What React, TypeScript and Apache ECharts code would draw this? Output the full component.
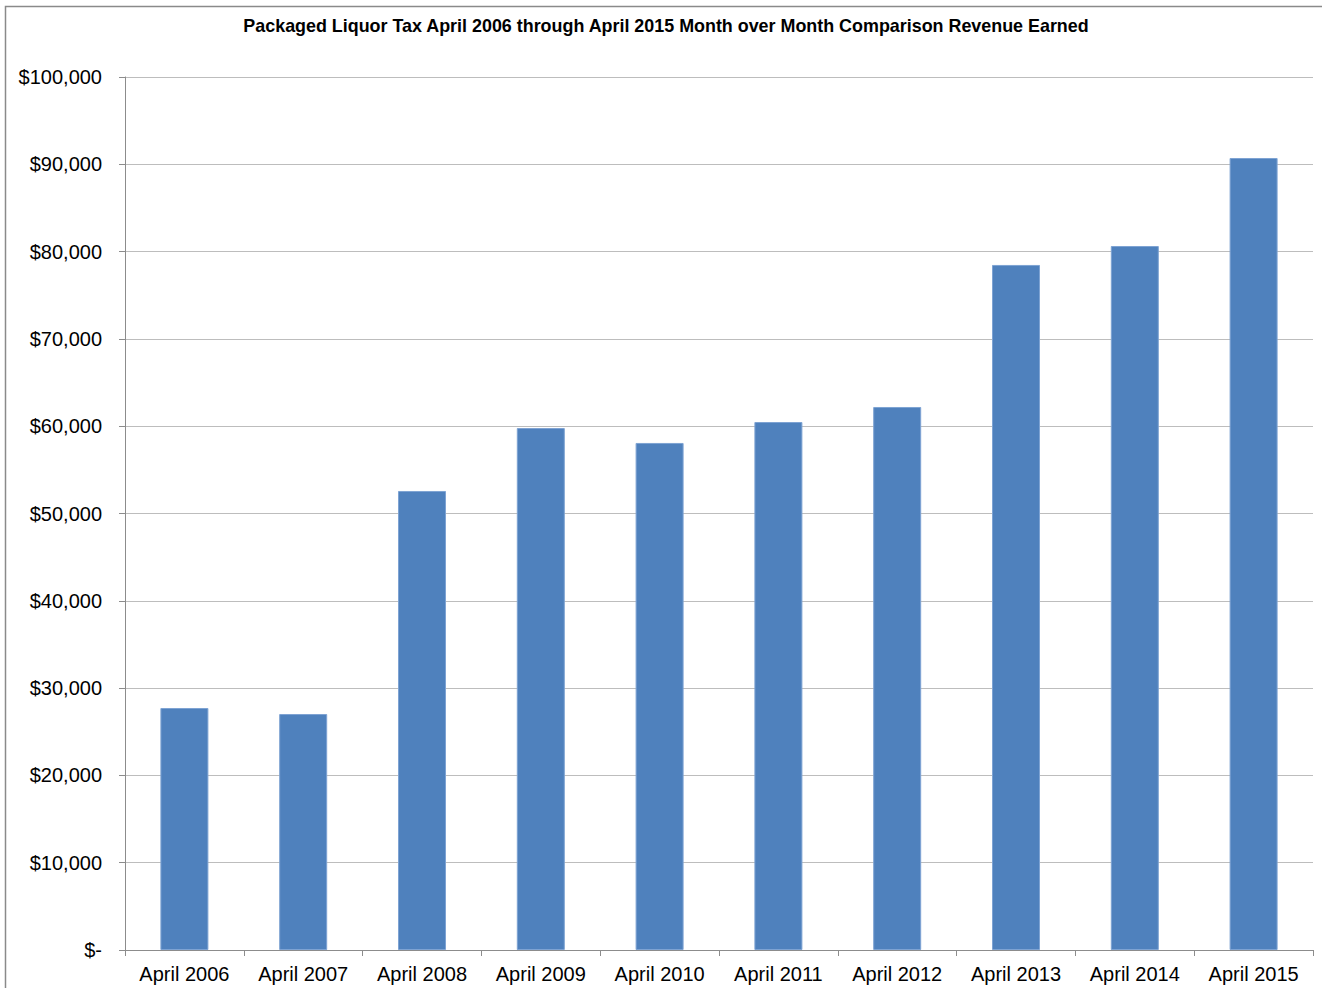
import React, { useEffect, useRef } from "react";
import * as echarts from "echarts";

const categories = [
  "April 2006", "April 2007", "April 2008", "April 2009", "April 2010",
  "April 2011", "April 2012", "April 2013", "April 2014", "April 2015",
];
const revenue = [27720, 27030, 52580, 59790, 58080, 60480, 62200, 78470, 80640, 90720];
const titleText = "Packaged Liquor Tax April 2006 through April 2015 Month over Month Comparison Revenue Earned";

export default function App() {
  const ref = useRef<HTMLDivElement>(null);
  useEffect(() => {
    if (!ref.current) return;
    const chart = echarts.init(ref.current, null, { renderer: "svg" });
    chart.setOption({
      animation: false,
      backgroundColor: "#ffffff",
      title: {
        text: titleText,
        left: 661,
        textAlign: "center",
        top: 12,
        textStyle: { fontFamily: "Liberation Sans, Arial", fontSize: 17.9, fontWeight: "bold", color: "#000" },
      },
      graphic: [
        {
          type: "rect",
          shape: { x: 5.5, y: 6.5, width: 1400, height: 1100 },
          style: { fill: "none", stroke: "#8a8a8a", lineWidth: 1.5 },
          silent: true,
        },
      ],
      grid: { left: 125, right: 9, top: 77, bottom: 38, containLabel: false },
      xAxis: {
        type: "category",
        data: categories,
        boundaryGap: true,
        axisLine: { show: true, lineStyle: { color: "#8c8c8c", width: 1 } },
        axisTick: { show: true, alignWithLabel: false, length: 6, lineStyle: { color: "#8c8c8c" } },
        axisLabel: { fontFamily: "Liberation Sans, Arial", fontSize: 20, color: "#000", margin: 14, interval: 0 },
      },
      yAxis: {
        type: "value",
        min: 0,
        max: 100000,
        interval: 10000,
        axisLine: { show: true, lineStyle: { color: "#8c8c8c", width: 1 } },
        axisTick: { show: true, length: 6, inside: false, lineStyle: { color: "#8c8c8c" } },
        splitLine: { show: true, lineStyle: { color: "#bdbdbd", width: 1 } },
        axisLabel: {
          fontFamily: "Liberation Sans, Arial",
          fontSize: 20,
          color: "#000",
          margin: 23,
          formatter: (v: number) => (v === 0 ? "$-" : "$" + v.toLocaleString("en-US")),
        },
      },
      series: [
        {
          type: "bar",
          data: revenue,
          barWidth: 48,
          itemStyle: { color: "#4f81bd", borderColor: "#7ea3d3", borderWidth: 1 },
        },
      ],
    });
    return () => chart.dispose();
  }, []);
  return (
    <div
      ref={ref}
      style={{ position: "fixed", left: 0, top: 0, width: 1322, height: 988, background: "#fff" }}
    />
  );
}
